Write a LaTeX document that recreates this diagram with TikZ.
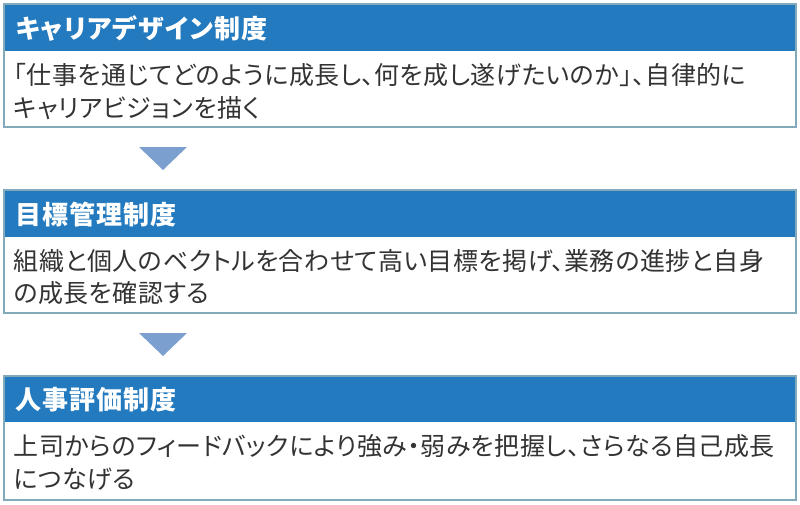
\documentclass[tikz,border=0pt]{standalone}
\usepackage{fontspec}
\setmainfont[RawFeature=+palt,LetterSpace=2]{Noto Sans CJK JP}
\newfontfamily\hdfont[RawFeature=+palt,LetterSpace=4]{Noto Sans CJK JP}
\definecolor{hdblue}{HTML}{237ABF}
\definecolor{bordercol}{HTML}{82AABB}
\definecolor{tricol}{HTML}{7BA0D0}
\definecolor{txtcol}{HTML}{333333}
\begin{document}
\begin{tikzpicture}[x=1pt,y=-1pt,
  frame/.style={draw=bordercol,line width=1.3pt,fill=white},
  hdbar/.style={fill=hdblue},
  hdtext/.style={anchor=base west,inner sep=0pt,text=white,font=\hdfont\bfseries\fontsize{26}{30}\selectfont},
  bodytext/.style={anchor=base west,inner sep=0pt,text=txtcol,font=\fontsize{25}{33}\selectfont},
  arrowtri/.style={fill=tricol}]
\useasboundingbox (0,0) rectangle (800,504);
% block 1
\draw[frame] (4,4) rectangle (796,127);
\fill[hdbar] (4.65,4.65) rectangle (795.35,51);
\node[hdtext] (h1) at (15.5,38) {キャリアデザイン制度};
\node[bodytext] (b1a) at (13.5,84) {「仕事を通じてどのように成長し、何を成し遂げたいのか」、自律的に};
\node[bodytext] (b1b) at (13.5,117) {キャリアビジョンを描く};
% arrow 1
\coordinate (t1a) at (139,147);
\coordinate (t1b) at (187,147);
\coordinate (t1c) at (163,170);
\fill[arrowtri] (t1a) -- (t1b) -- (t1c) -- cycle;
% block 2
\draw[frame] (4,190) rectangle (796,313);
\fill[hdbar] (4.65,190.65) rectangle (795.35,237);
\node[hdtext] (h2) at (15.5,224) {目標管理制度};
\node[bodytext] (b2a) at (13.5,270) {組織と個人のベクトルを合わせて高い目標を掲げ、業務の進捗と自身};
\node[bodytext] (b2b) at (13.5,302) {の成長を確認する};
% arrow 2
\coordinate (t2a) at (139,333);
\coordinate (t2b) at (187,333);
\coordinate (t2c) at (163,356);
\fill[arrowtri] (t2a) -- (t2b) -- (t2c) -- cycle;
% block 3
\draw[frame] (4,376) rectangle (796,500);
\fill[hdbar] (4.65,376.65) rectangle (795.35,422);
\node[hdtext] (h3) at (15.5,409.5) {人事評価制度};
\node[bodytext] (b3a) at (13.5,455.5) {上司からのフィードバックにより強み・弱みを把握し、さらなる自己成長};
\node[bodytext] (b3b) at (13.5,488) {につなげる};
\end{tikzpicture}
\end{document}
